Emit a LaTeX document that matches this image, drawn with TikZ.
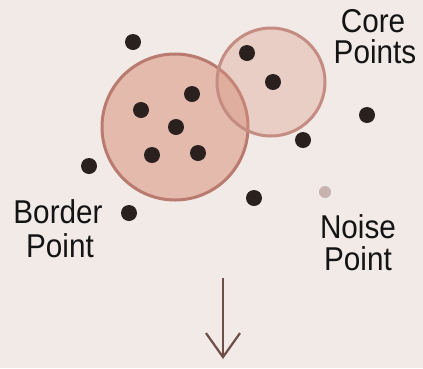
\documentclass[tikz,border=0pt]{standalone}
\usepackage{fontspec}
\setmainfont{Liberation Sans}[FakeStretch=0.9]
\usetikzlibrary{arrows.meta}
\definecolor{bg}{HTML}{F1EAE6}
\definecolor{rose}{HTML}{DA9A86}
\definecolor{rim}{HTML}{B97B70}
\definecolor{rimlight}{HTML}{C48C82}
\definecolor{dotc}{HTML}{2A201E}
\definecolor{noisec}{HTML}{C9B3B0}
\definecolor{arrowc}{HTML}{6E4E48}
\tikzset{
  pt/.style={circle, fill=dotc, inner sep=0pt, minimum size=16pt},
  noisept/.style={circle, fill=noisec, inner sep=0pt, minimum size=12pt},
  bigzone/.style={circle, fill=rose, fill opacity=0.6, draw=rim, line width=3pt, inner sep=0pt},
  smallzone/.style={circle, fill=rose, fill opacity=0.35, draw=rimlight, line width=3pt, inner sep=0pt},
  lbl/.style={font=\fontsize{33}{35}\selectfont, text=black!92, anchor=base, inner sep=0pt},
  flow/.style={draw=arrowc, line width=2.2pt, -{Straight Barb[length=24pt,width=34pt,line width=2.2pt]}}
}
\begin{document}
\begin{tikzpicture}[x=1pt,y=-1pt]
\fill[bg] (0,0) rectangle (423,368);
\useasboundingbox (0,0) rectangle (423,368);
% zones
\node[bigzone, minimum size=146pt] (big) at (175,127) {};
\node[smallzone, minimum size=108pt] (small) at (271,82) {};
% points
\node[pt] (p1) at (133,42) {};
\node[pt] (p2) at (247,53) {};
\node[pt] (p3) at (273,82) {};
\node[pt] (p4) at (192,94) {};
\node[pt] (p5) at (141,110) {};
\node[pt] (p6) at (176,127) {};
\node[pt] (p7) at (152,155) {};
\node[pt] (p8) at (198,153) {};
\node[pt] (p9) at (367,115) {};
\node[pt] (p10) at (303,140) {};
\node[pt] (p11) at (89,166) {};
\node[pt] (p12) at (254,198) {};
\node[pt] (p13) at (129,213) {};
\node[noisept] (noise) at (325,192) {};
% labels
\node[lbl] (core1) at (373,32) {Core};
\node[lbl] (core2) at (375,63) {Points};
\node[lbl] (border1) at (58,223) {Border};
\node[lbl] (border2) at (60,257) {Point};
\node[lbl] (noise1) at (358,238) {Noise};
\node[lbl] (noise2) at (358,270) {Point};
% arrow
\coordinate (astart) at (223,278);
\coordinate (aend) at (223,359);
\draw[flow] (astart) -- (aend);
\end{tikzpicture}
\end{document}
